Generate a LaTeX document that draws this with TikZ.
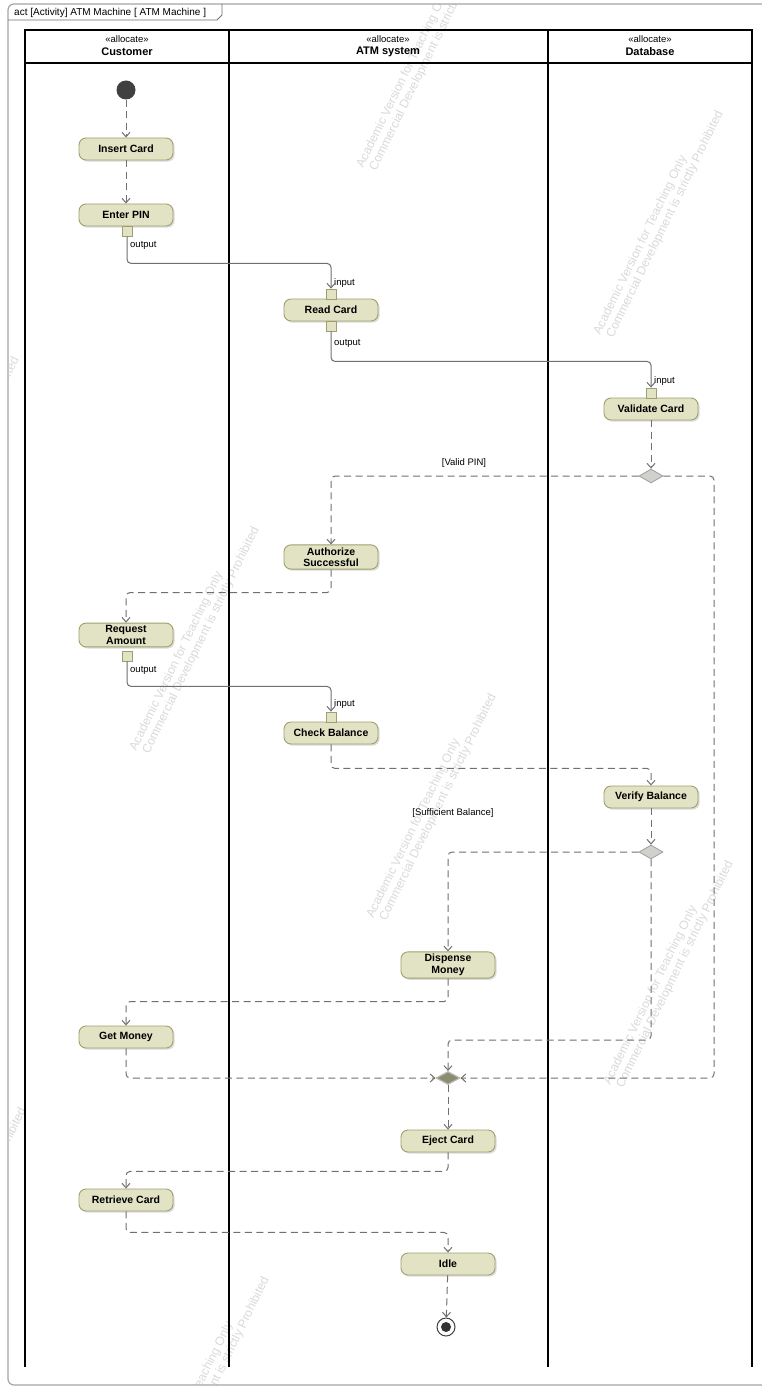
\documentclass[tikz,border=0pt]{standalone}
\usepackage{fontspec}
\setmainfont{Liberation Sans}
\usetikzlibrary{arrows.meta,shapes.geometric,shadows,calc}
\definecolor{actfill}{RGB}{226,226,196}
\definecolor{actborder}{RGB}{160,160,110}
\definecolor{flowgray}{RGB}{112,112,112}
\definecolor{wmgray}{RGB}{218,218,218}
\definecolor{decfill}{RGB}{208,208,204}
\definecolor{mergefill}{RGB}{140,140,112}
\definecolor{framegray}{RGB}{165,165,165}
\definecolor{initfill}{RGB}{64,64,64}
\begin{document}
\begin{tikzpicture}[x=1pt,y=-1pt,
  action/.style={draw=actborder, fill=actfill, line width=0.9pt, rounded corners=7pt,
    minimum width=94pt, minimum height=22pt, inner sep=2.5pt, align=center,
    font=\bfseries\fontsize{10.5}{11.5}\selectfont,
    drop shadow={shadow xshift=1.6pt, shadow yshift=-1.6pt, fill=black!28}},
  pinbox/.style={draw=actborder, fill=actfill, line width=0.8pt, minimum size=10pt, inner sep=0pt},
  plabel/.style={font=\fontsize{9.5}{10}\selectfont, anchor=west, inner sep=0pt},
  guard/.style={font=\fontsize{9.5}{10}\selectfont, inner sep=0pt},
  ctrl/.style={draw=flowgray, line width=1pt, dash pattern=on 7pt off 4.5pt, rounded corners=4pt,
    -{Straight Barb[length=4.5pt,width=8pt]}},
  obj/.style={draw=flowgray, line width=1pt, rounded corners=4pt,
    -{Straight Barb[length=4.5pt,width=8pt]}},
  decision/.style={diamond, draw=gray!75, fill=decfill, line width=0.8pt, minimum width=24pt,
    minimum height=14pt, inner sep=0pt},
  mergenode/.style={diamond, draw=gray!55, fill=mergefill, line width=1.2pt, minimum width=24pt,
    minimum height=13pt, inner sep=0pt},
  initnode/.style={circle, fill=initfill, minimum size=19pt, inner sep=0pt},
  finalnode/.style={circle, draw=black!75, fill=white, line width=1pt, minimum size=18pt, inner sep=0pt,
    path picture={\fill[black!80] (path picture bounding box.center) circle (5pt);}},
  lanehead/.style={font=\bfseries\fontsize{11}{12}\selectfont, inner sep=0pt},
  stereo/.style={font=\fontsize{9.5}{10}\selectfont, inner sep=0pt},
  lane/.style={line width=1.6pt, draw=black},
  wm/.style={anchor=base west, rotate=64, text=wmgray, font=\fontsize{12.3}{13}\selectfont, inner sep=0pt}
]
\useasboundingbox (0,0) rectangle (762,1388);
\clip (0,0) rectangle (762,1388);
\fill[white] (0,0) rectangle (762,1388);

% watermarks (clipped to the frame interior)
\begin{scope}
\clip (9,5) rectangle (762,1384);
\foreach \px/\py [count=\i] in {136/752, 373/919, 610/1086, 363/169, 600/336, -104/582, -97/1333, 146/1502} {
  \coordinate (wm\i) at (\px,\py);
  \node[wm] (wma\i) at (wm\i) {Academic Version for Teaching Only};
  \node[wm] (wmb\i) at ($(wm\i)+(13,3)$) {Commercial Development is strictly Prohibited};
}
\end{scope}

% frame
\draw[framegray, line width=1.2pt, rounded corners=6pt] (8,4) rectangle (790,1385);
\draw[black!55, line width=0.8pt] (8,20) -- (217,20) -- (222,15) -- (222,4);
\node[anchor=west, font=\fontsize{10}{11}\selectfont, inner sep=0pt] (title) at (14,13)
  {act [Activity] ATM Machine [ ATM Machine ]};

% swimlanes
\draw[lane] (25,1367) -- (25,30) -- (752,30) -- (752,1367);
\draw[lane] (229,30) -- (229,1367);
\draw[lane] (548,30) -- (548,1367);
\draw[lane] (25,63) -- (752,63);
\node[stereo] (s1) at (127,39) {«allocate»};
\node[lanehead] (h1) at (127,52) {Customer};
\node[stereo] (s2) at (388,39) {«allocate»};
\node[lanehead] (h2) at (388,52) {ATM system};
\node[stereo] (s3) at (650,39) {«allocate»};
\node[lanehead] (h3) at (650,52) {Database};

% nodes
\node[initnode] (init) at (126,90) {};
\node[action] (insert) at (126,149) {Insert Card};
\node[action] (enterpin) at (126,215) {Enter PIN};
\node[pinbox] (pinout) at (127,231) {};
\node[plabel] (l1) at (130,245) {output};

\node[action] (read) at (331,310) {Read Card};
\node[pinbox] (readin) at (331,294) {};
\node[pinbox] (readout) at (331,326) {};
\node[plabel] (l2) at (334,283) {input};
\node[plabel] (l3) at (334,343) {output};

\node[action] (valid) at (651,409) {Validate Card};
\node[pinbox] (validin) at (651,393) {};
\node[plabel] (l4) at (654,381) {input};

\node[decision] (dec1) at (651,476) {};
\node[guard] (g1) at (464,463) {[Valid PIN]};

\node[action] (auth) at (331,557) {Authorize\\Successful};
\node[action] (req) at (126,635) {Request\\Amount};
\node[pinbox] (reqout) at (127,656) {};
\node[plabel] (l5) at (130,670) {output};

\node[action] (check) at (331,733) {Check Balance};
\node[pinbox] (checkin) at (331,717) {};
\node[plabel] (l6) at (334,704) {input};

\node[action] (verify) at (651,797) {Verify Balance};
\node[decision] (dec2) at (651,852) {};
\node[guard] (g2) at (453,813) {[Sufficient Balance]};

\node[action] (disp) at (448,965) {Dispense\\Money};
\node[action] (get) at (126,1037) {Get Money};
\node[mergenode] (merge) at (448,1078) {};
\node[action] (eject) at (448,1141) {Eject Card};
\node[action] (retr) at (126,1200) {Retrieve Card};
\node[action] (idle) at (448,1264) {Idle};
\node[finalnode] (fin) at (446,1327) {};

\coordinate (c1) at (714,1078);
\coordinate (c2) at (448,1040);

% flows
\draw[ctrl] (init) -- (insert);
\draw[ctrl] (insert) -- (enterpin);
\draw[obj] (pinout.south) -- ++(0,27) -| (readin.north);
\draw[obj] (readout.south) -- ++(0,30) -| (validin.north);
\draw[ctrl] (valid) -- (dec1);
\draw[ctrl] (dec1.west) -| (auth.north);
\draw[ctrl] (dec1.east) -| (c1) -- (merge.east);
\draw[ctrl] (auth.south) -- ++(0,23) -| (req.north);
\draw[obj] (reqout.south) -- ++(0,25) -| (checkin.north);
\draw[ctrl] (check.south) -- ++(0,24) -| (verify.north);
\draw[ctrl] (verify) -- (dec2);
\draw[ctrl] (dec2.west) -| (disp.north);
\draw[ctrl] (dec2.south) |- (c2) -- (merge.north);
\draw[ctrl] (disp.south) -- ++(0,23) -| (get.north);
\draw[ctrl] (get.south) |- (merge.west);
\draw[ctrl] (merge.south) -- (eject.north);
\draw[ctrl] (eject.south) -- ++(0,19) -| (retr.north);
\draw[ctrl] (retr.south) -- ++(0,21) -| (idle.north);
\draw[ctrl] (idle) -- (fin);
\end{tikzpicture}
\end{document}
